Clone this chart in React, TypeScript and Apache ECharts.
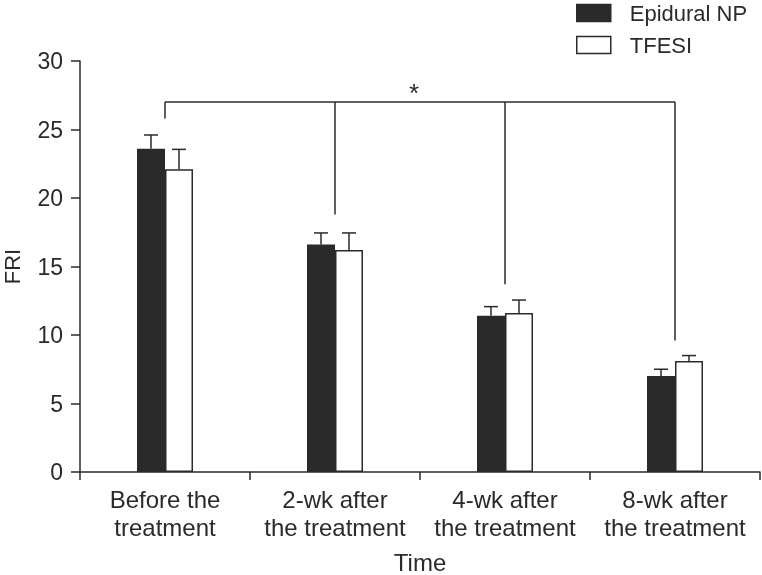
import React, { useEffect, useRef } from "react";
import * as echarts from "echarts";

const categories = [
  "Before the\ntreatment",
  "2-wk after\nthe treatment",
  "4-wk after\nthe treatment",
  "8-wk after\nthe treatment",
];
const epiduralMean = [23.6, 16.6, 11.4, 7.0];
const epiduralErr = [1.0, 0.85, 0.67, 0.5];
const tfesiMean = [22.1, 16.2, 11.6, 8.1];
const tfesiErr = [1.45, 1.25, 0.95, 0.4];
const bracketTop = 27;
const bracketEnds = [25.8, 18.8, 13.7, 9.6];
const yTicks = { min: 0, max: 30, interval: 5 };

const FONT = "Liberation Sans, Arial, sans-serif";
const INK = "#2a2a2a";
const BAR_W = 28;

export default function App() {
  const ref = useRef<HTMLDivElement>(null);
  useEffect(() => {
    if (!ref.current) return;
    const chart = echarts.init(ref.current, undefined, { renderer: "svg" });
    const errData: number[][] = [];
    epiduralMean.forEach((m, i) => errData.push([i, m, epiduralErr[i], -1]));
    tfesiMean.forEach((m, i) => errData.push([i, m, tfesiErr[i], 1]));
    const bracketData = bracketEnds.map((v, i) => [i, v]);

    chart.setOption({
      animation: false,
      textStyle: { fontFamily: FONT },
      legend: {
        orient: "vertical",
        left: 576,
        top: 2,
        padding: 0,
        itemWidth: 34,
        itemHeight: 17,
        itemGap: 10,
        textStyle: { fontSize: 22, color: INK, fontFamily: FONT, padding: [0, 0, 0, 14] },
        data: [
          { name: "Epidural NP", icon: "rect", itemStyle: { color: INK, borderColor: INK, borderWidth: 1.5 } },
          { name: "TFESI", icon: "rect", itemStyle: { color: "#fff", borderColor: INK, borderWidth: 1.5 } },
        ],
      },
      grid: {
        left: 80,
        right: 2,
        top: 61,
        bottom: 103,
        containLabel: false,
        outerBoundsMode: "none",
      },
      xAxis: {
        type: "category",
        data: categories,
        name: "Time",
        nameLocation: "middle",
        nameGap: 78,
        nameTextStyle: { fontSize: 24, color: INK, fontFamily: FONT },
        axisLine: { lineStyle: { color: INK, width: 1.5 } },
        axisTick: { show: true, interval: 0, length: 8, lineStyle: { color: INK, width: 1.5 } },
        axisLabel: { interval: 0, fontSize: 24, color: INK, lineHeight: 28, margin: 13, fontFamily: FONT },
      },
      yAxis: {
        type: "value",
        min: yTicks.min,
        max: yTicks.max,
        interval: yTicks.interval,
        name: "FRI",
        nameLocation: "middle",
        nameGap: 57,
        nameRotate: 90,
        nameTextStyle: { fontSize: 22, color: INK, fontFamily: FONT },
        splitLine: { show: false },
        axisLine: { show: true, lineStyle: { color: INK, width: 1.5 } },
        axisTick: { show: true, length: 9, lineStyle: { color: INK, width: 1.5 } },
        axisLabel: { fontSize: 23, color: INK, margin: 17, fontFamily: FONT },
      },
      series: [
        {
          name: "Epidural NP",
          type: "bar",
          data: epiduralMean,
          barWidth: BAR_W,
          barGap: "0%",
          itemStyle: { color: INK, borderColor: INK, borderWidth: 1.5 },
        },
        {
          name: "TFESI",
          type: "bar",
          data: tfesiMean,
          barWidth: BAR_W,
          barGap: "0%",
          itemStyle: { color: "#fff", borderColor: INK, borderWidth: 1.5 },
        },
        {
          type: "custom",
          data: errData,
          silent: true,
          z: 5,
          renderItem: (params: any, api: any) => {
            const i = api.value(0);
            const m = api.value(1);
            const e = api.value(2);
            const s = api.value(3);
            const base = api.coord([i, m]);
            const top = api.coord([i, m + e]);
            const x = base[0] + (s * BAR_W) / 2;
            const style = { stroke: INK, lineWidth: 1.5 };
            return {
              type: "group",
              children: [
                { type: "line", shape: { x1: x, y1: base[1], x2: x, y2: top[1] }, style },
                { type: "line", shape: { x1: x - 7, y1: top[1], x2: x + 7, y2: top[1] }, style },
              ],
            };
          },
        },
        {
          type: "custom",
          data: bracketData,
          silent: true,
          z: 5,
          renderItem: (params: any, api: any) => {
            const i = api.value(0);
            const v = api.value(1);
            const end = api.coord([i, v]);
            const topPt = api.coord([i, bracketTop]);
            const style = { stroke: INK, lineWidth: 1.5 };
            const children: any[] = [
              { type: "line", shape: { x1: topPt[0], y1: topPt[1], x2: end[0], y2: end[1] }, style },
            ];
            if (params.dataIndex === 0) {
              const last = api.coord([bracketData.length - 1, bracketTop]);
              children.push({
                type: "line",
                shape: { x1: topPt[0], y1: topPt[1], x2: last[0], y2: last[1] },
                style,
              });
              const a = api.coord([1, bracketTop]);
              const b = api.coord([2, bracketTop]);
              children.push({
                type: "text",
                x: (a[0] + b[0]) / 2 - 6,
                y: topPt[1] + 4,
                style: {
                  text: "*",
                  fontSize: 26,
                  fontFamily: FONT,
                  fill: INK,
                  textAlign: "center",
                  textVerticalAlign: "bottom",
                },
              });
            }
            return { type: "group", children };
          },
        },
      ],
    });
    return () => chart.dispose();
  }, []);
  return (
    <div
      ref={ref}
      style={{ position: "fixed", left: 0, top: 0, width: 762, height: 575 }}
    />
  );
}
